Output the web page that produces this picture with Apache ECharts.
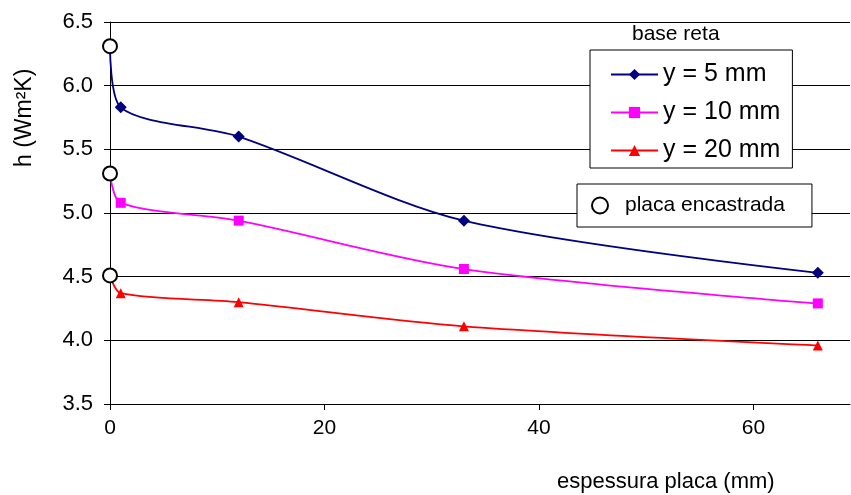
<!DOCTYPE html>
<html>
<head>
<meta charset="utf-8">
<script src="https://cdn.jsdelivr.net/npm/echarts@6/dist/echarts.min.js"></script>
<style>
  html, body { margin: 0; padding: 0; background: #fff; }
  #chart { width: 851px; height: 495px; }
</style>
</head>
<body>
<div id="chart"></div>
<script>
// espessura placa (mm)
var espessura = [0, 1, 12, 33, 66];
var h5mm = [6.31, 5.83, 5.60, 4.94, 4.53];
var h10mm = [5.31, 5.08, 4.94, 4.56, 4.29];
var h20mm = [4.51, 4.37, 4.30, 4.11, 3.96];
// placa encastrada (x = 0)
var encastradaX = [0, 0, 0];
var encastradaY = [6.31, 5.31, 4.51];

var seriesNames = ["y = 5 mm", "y = 10 mm", "y = 20 mm"];
var font = "'Liberation Sans', Arial, sans-serif";

function toPoints(ys) {
  return espessura.map(function (x, i) {
    // first point (x = 0) has no marker
    if (i === 0) return { value: [x, ys[i]], symbol: "none" };
    return [x, ys[i]];
  });
}

function lineSeries(name, ys, color, symbol, size) {
  return {
    name: name,
    type: "line",
    data: toPoints(ys),
    smooth: 0.3,
    symbol: symbol,
    symbolSize: size,
    showAllSymbol: true,
    lineStyle: { color: color, width: 1.8 },
    itemStyle: { color: color },
    animation: false
  };
}

var chart = echarts.init(document.getElementById("chart"));
chart.setOption({
  backgroundColor: "#fff",
  textStyle: { fontFamily: font },
  grid: { left: 110, right: 1, top: 22, bottom: 91 },
  xAxis: {
    type: "value",
    min: 0,
    max: 69,
    interval: 20,
    axisLine: { lineStyle: { color: "#000", width: 1 } },
    axisTick: { show: true, length: 6, lineStyle: { color: "#000" } },
    axisLabel: {
      color: "#000", fontSize: 21, margin: 14,
      showMaxLabel: false
    },
    splitLine: { show: false }
  },
  yAxis: {
    type: "value",
    min: 3.5,
    max: 6.5,
    interval: 0.5,
    axisLine: { show: true, lineStyle: { color: "#000", width: 1 } },
    axisTick: { show: true, length: 6, lineStyle: { color: "#000" } },
    axisLabel: {
      color: "#000", fontSize: 22, margin: 17,
      formatter: function (v) { return v.toFixed(1); }
    },
    splitLine: { show: true, lineStyle: { color: "#000", width: 1 } }
  },
  legend: [
    {
      data: seriesNames,
      orient: "vertical",
      left: 590,
      top: 50,
      padding: [12, 12, 5, 20],
      itemGap: 13,
      itemWidth: 47,
      itemHeight: 14,
      backgroundColor: "#fff",
      borderColor: "#000",
      borderWidth: 1,
      borderRadius: 0,
      textStyle: { color: "#000", fontSize: 25, lineHeight: 24, fontFamily: font }
    },
    {
      data: ["placa encastrada"],
      orient: "vertical",
      left: 577,
      top: 184,
      padding: [11, 27, 11, 14],
      itemWidth: 30,
      itemHeight: 16,
      backgroundColor: "#fff",
      borderColor: "#000",
      borderWidth: 1,
      borderRadius: 0,
      textStyle: { color: "#000", fontSize: 21, lineHeight: 20, padding: [0, 0, 0, 5], fontFamily: font }
    }
  ],
  graphic: [
    {
      type: "text",
      left: 632,
      top: 24,
      style: { text: "base reta", fill: "#000", font: "21px " + font }
    },
    {
      type: "text",
      x: 13,
      y: 167,
      rotation: Math.PI / 2,
      style: { text: "h (Wm\u00b2K)", fill: "#000", font: "23px " + font }
    },
    {
      type: "text",
      left: 557,
      top: 471,
      style: { text: "espessura placa (mm)", fill: "#000", font: "22px " + font }
    }
  ],
  series: [
    lineSeries(seriesNames[0], h5mm, "#000080", "diamond", 12),
    lineSeries(seriesNames[1], h10mm, "#FF00FF", "rect", 10),
    lineSeries(seriesNames[2], h20mm, "#FF0000", "triangle", 10),
    {
      name: "placa encastrada",
      type: "scatter",
      data: encastradaX.map(function (x, i) { return [x, encastradaY[i]]; }),
      symbol: "emptyCircle",
      symbolSize: 14,
      clip: false,
      itemStyle: { color: "#000", borderColor: "#000", borderWidth: 1.3, opacity: 1 },
      z: 3,
      animation: false
    }
  ]
});
</script>
</body>
</html>
